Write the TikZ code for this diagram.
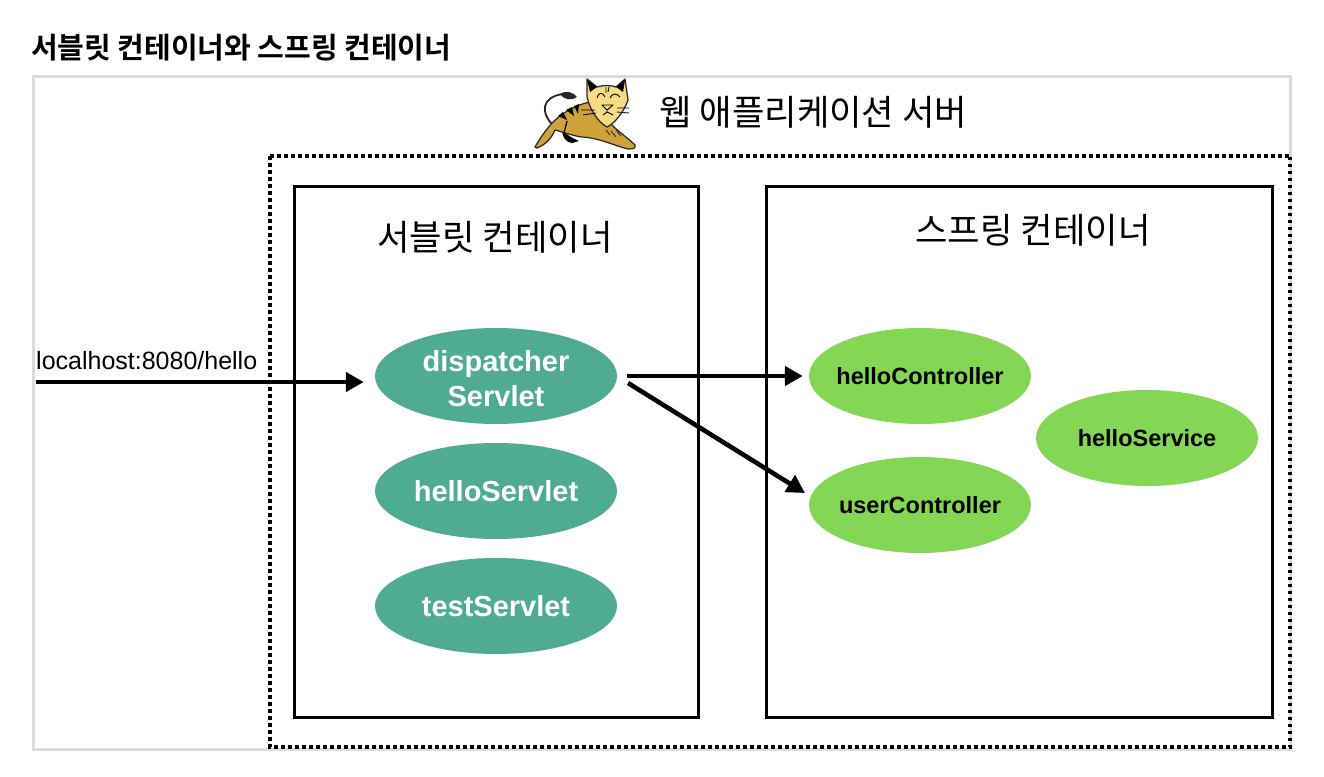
\documentclass[tikz,border=0pt]{standalone}
\usepackage{fontspec}
\setmainfont{Liberation Sans}
\newfontfamily\krfont{Noto Sans CJK KR}
\newfontfamily\krbold{Noto Sans CJK KR Bold}
\usetikzlibrary{arrows.meta,shapes.geometric}
\definecolor{teal1}{HTML}{4FAB91}
\definecolor{green1}{HTML}{83D755}
\definecolor{catyellow}{HTML}{F7DC85}
\definecolor{catgold}{HTML}{CFA23A}
\tikzset{
 box/.style={draw=black,line width=3.4pt,fill=none,inner sep=0pt},
 teal node/.style={ellipse,fill=teal1,text=white,minimum width=242pt,minimum height=96pt,inner sep=-20pt,align=center,font=\fontsize{29}{35}\selectfont\bfseries},
 green node/.style={ellipse,fill=green1,text=black,minimum width=222pt,minimum height=96pt,inner sep=-20pt,align=center,font=\fontsize{23.5}{30}\selectfont\bfseries},
 arrowline/.style={line width=4.6pt,-{Triangle[length=18pt,width=19pt]}},
 title/.style={font=\fontsize{35.3}{40}\selectfont\krfont,text=black,inner sep=0pt},
}
\begin{document}
\begin{tikzpicture}[x=1pt,y=-1pt]
\useasboundingbox (0,0) rectangle (1324,776);
\fill[white] (0,0) rectangle (1324,776);
\node[anchor=west,inner sep=0pt,font=\fontsize{29}{35}\selectfont\krbold] (heading) at (31,48) {서블릿 컨테이너와 스프링 컨테이너};
\draw[draw=black!14,line width=3pt] (33,76) rectangle (1290,749);
\draw[line width=3.5pt,dash pattern=on 3.5pt off 3.5pt] (270,156) -- (1290,156);
\draw[line width=3.5pt,dash pattern=on 3.5pt off 3.5pt] (270,156) -- (270,747) -- (1290,747) -- (1290,156);
% cat
\begin{scope}[line join=round]
 \draw[line width=1.8pt,black!85] (552,124) .. controls (541,113) and (541,97) .. (563,94);
 \fill[black!85] (560,94) .. controls (566,90) and (573,92) .. (577,97) .. controls (572,101) and (564,100) .. (560,94) -- cycle;
 \fill[black] (562,129) .. controls (566,135) and (572,138) .. (579,141) -- (572,143) .. controls (566,142) and (562,138) .. (562,129) -- cycle;
 \draw[black!85,fill=catgold,line width=1.2pt] (535,147) .. controls (540,138) and (546,130) .. (552,123) .. controls (562,113) and (575,105) .. (590,102) -- (615,128) .. controls (622,134) and (630,140) .. (635,145) .. controls (636,148) and (634,149) .. (628,149) .. controls (615,146) and (600,138) .. (582,137) .. controls (574,136) and (566,133) .. (555,130) .. controls (552,137) and (547,144) .. (537,148) -- cycle;
 \fill[black] (558,116) -- (567,120) -- (563,112) -- cycle;
 \fill[black] (566,110) -- (574,116) -- (572,107) -- cycle;
 \fill[black] (574,106) -- (578,114) -- (579,104) -- cycle;
 \draw[black,line width=1.2pt] (567,121) -- (564,133);
 \draw[black!85,fill=catyellow,line width=1.2pt] (587,79) -- (597,87) .. controls (603,85) and (611,85) .. (616,87) -- (625,79) -- (628,100) .. controls (624,112) and (614,124) .. (607,127) .. controls (598,122) and (590,110) .. (587,97) -- cycle;
 \fill[black] (587,80) -- (597,87) -- (590,92) -- cycle;
 \fill[black] (625,80) -- (616,87) -- (623,92) -- cycle;
 \draw[black,line width=.9pt] (606,87) -- (606,93) (609,87) -- (608,92)
   (597,98) .. controls (598,92) and (603,92) .. (605,97)
   (610,98) .. controls (612,93) and (617,93) .. (620,97);
 \draw[black,line width=.9pt] (602,105) -- (613,105) -- (607,110) -- cycle (607,110) -- (607,112) (603,115) -- (607,112) -- (613,115);
 \draw[black,line width=.8pt] (581,110) -- (595,110) (583,115) -- (596,113) (617,108) -- (629,108) (617,112) -- (629,113);
 \draw[black!80,line width=1pt] (611,131) -- (616,137) (616,130) -- (621,136) (606,130) -- (610,135);
\end{scope}
\node[title,anchor=west] (server) at (659,112) {웹 애플리케이션 서버};
\node[box,minimum width=404pt,minimum height=531pt,anchor=north west] (servletbox) at (292.5,184.5) {};
\node[box,minimum width=506pt,minimum height=531pt,anchor=north west] (springbox) at (764.5,184.5) {};
\node[title] (servlettitle) at (495,237) {서블릿 컨테이너};
\node[title] (springtitle) at (1033,230) {스프링 컨테이너};
\node[teal node] (dispatcher) at (496,376) {\rule{0pt}{26pt}dispatcher\\Servlet};
\node[teal node] (helloservlet) at (496,491) {helloServlet};
\node[teal node] (testservlet) at (496,606) {testServlet};
\node[green node] (helloc) at (920,376) {helloController};
\node[green node] (userc) at (920,505) {userController};
\node[green node] (hellos) at (1147,438) {helloService};
\node[anchor=west,inner sep=0pt,font=\fontsize{25}{28}\selectfont] (url) at (36,361) {localhost:8080/hello};
\coordinate (urlstart) at (36,382);
\coordinate (dstart) at (628,383);
\coordinate (uend) at (805,493);
\draw[arrowline,shorten >=11pt] (urlstart) -- (dispatcher.west |- urlstart);
\draw[arrowline,shorten <=10pt,shorten >=6pt] (dispatcher.east) -- (helloc.west);
\draw[arrowline] (dstart) -- (uend);
\end{tikzpicture}
\end{document}
